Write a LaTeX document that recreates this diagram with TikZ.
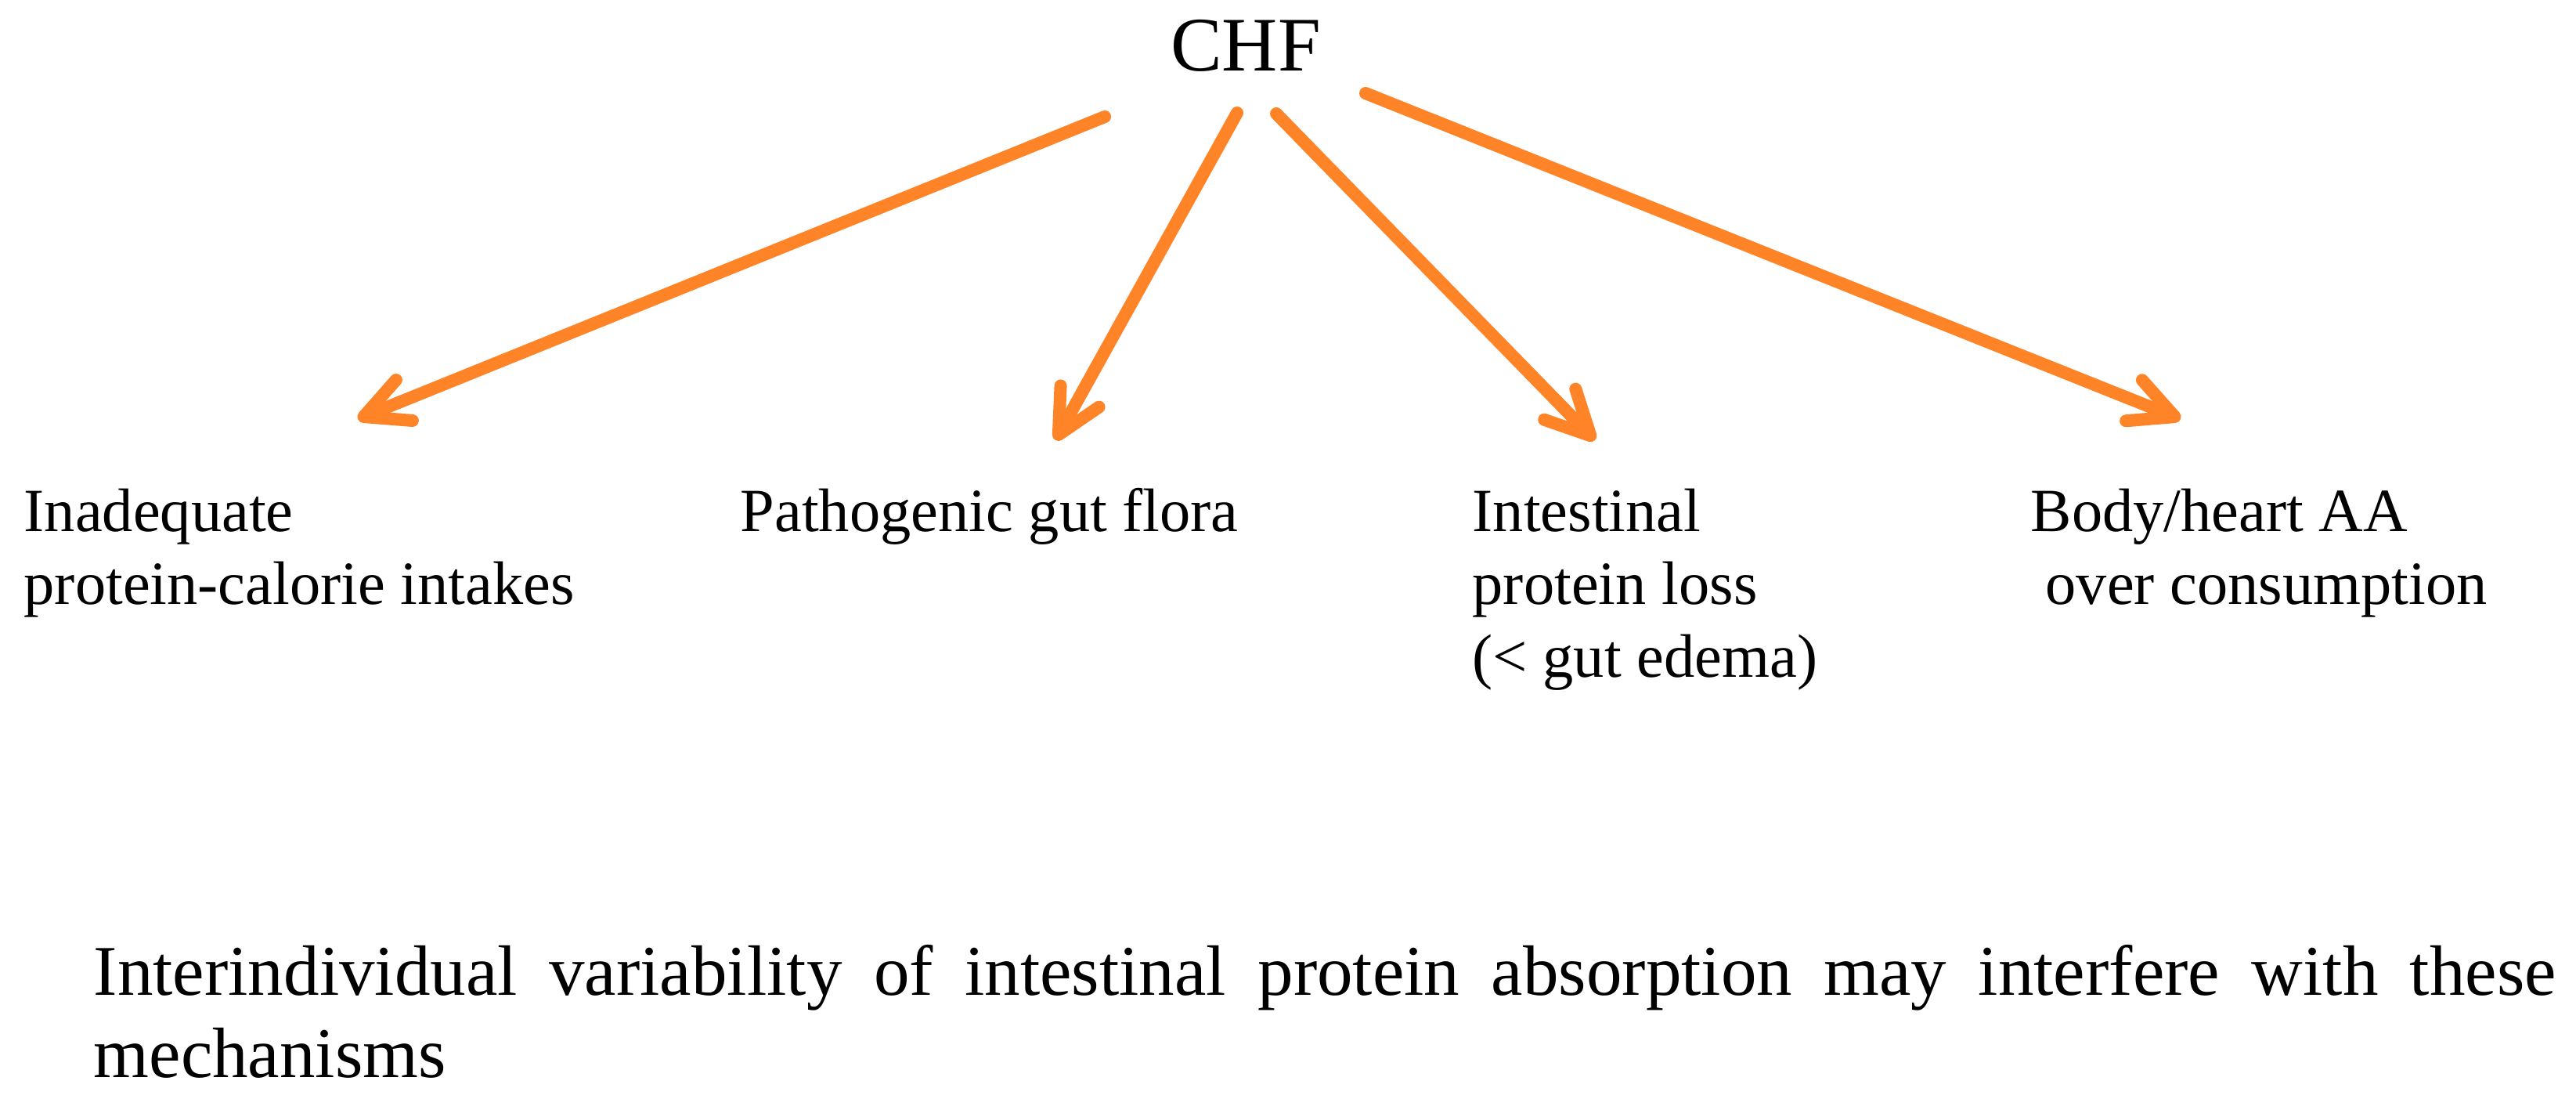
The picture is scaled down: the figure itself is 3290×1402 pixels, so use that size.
\documentclass[tikz,border=0pt]{standalone}
\usepackage{fontspec}
\setmainfont{Liberation Serif}
\usepackage{xcolor}
\usepackage{tikz}
\usetikzlibrary{arrows.meta}

\definecolor{chforange}{RGB}{255,131,39}

\tikzset{
  cause/.style={anchor=base west, inner sep=0pt, align=left, font=\fontsize{22.3}{26.4}\selectfont},
  push/.style={draw=chforange, line width=0.16cm, line cap=round, -{Straight Barb[length=0.56cm, width=0.56cm, round]}}
}

\begin{document}
\begin{tikzpicture}[x=0.01cm, y=-0.01cm]

  \fill[white] (0,0) rectangle (3290,1402);
  \useasboundingbox (0,0) rectangle (3290,1402);

  % Define nodes (multi-line nodes sit on their last baseline)
  \node[anchor=base, inner sep=0pt, font=\fontsize{28}{30}\selectfont] (chf) at (1591,90) {CHF};

  \node[cause] (intake) at (30,771) {Inadequate\\protein-calorie intakes};
  \node[cause] (flora) at (945,678) {Pathogenic gut flora};
  \node[cause] (loss) at (1880,864) {Intestinal\\protein loss\\(< gut edema)};
  \node[cause] (consumption) at (2593,771) {Body/heart AA\\\hspace*{0.19cm}over consumption};

  % text width node sits on its first baseline
  \node[anchor=base west, inner sep=0pt, text width=31.43cm, align=justify,
        font=\fontsize{25.9}{29.9}\selectfont] (note) at (119,1270)
        {Interindividual variability of intestinal protein absorption may interfere with these\linebreak mechanisms};

  % Arrow ends
  \coordinate (s_intake) at (1411,149);
  \coordinate (s_flora) at (1580,144);
  \coordinate (s_loss) at (1630,145);
  \coordinate (s_consumption) at (1744,119);

  \coordinate (t_intake) at (457,535);
  \coordinate (t_flora) at (1348,562);
  \coordinate (t_loss) at (2037,562);
  \coordinate (t_consumption) at (2785,535);

  % Connect nodes
  \draw[push] (s_intake) -- (t_intake);
  \draw[push] (s_flora) -- (t_flora);
  \draw[push] (s_loss) -- (t_loss);
  \draw[push] (s_consumption) -- (t_consumption);

\end{tikzpicture}
\end{document}
